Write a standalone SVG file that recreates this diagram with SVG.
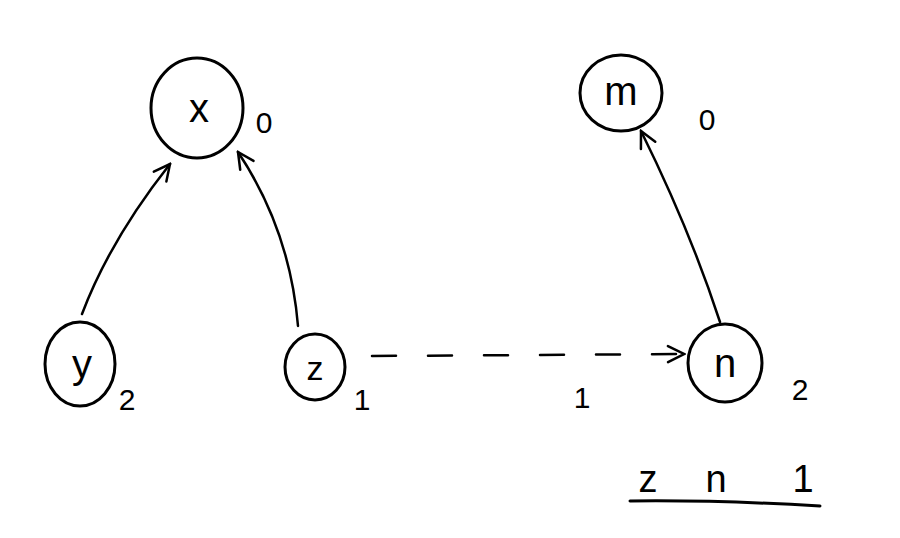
<svg xmlns="http://www.w3.org/2000/svg" width="900" height="538" viewBox="0 0 900 538">
<style>
.c{fill:none;stroke:#000;stroke-width:3;stroke-linecap:round}
.t{font-family:"Liberation Sans",Arial,sans-serif;fill:#000;text-anchor:middle}
.lbl{font-size:40px}
.w{font-size:30px}
.e{fill:none;stroke:#000;stroke-width:2.5;stroke-linecap:round}
</style>
<defs>
<marker id="ah" viewBox="0 0 20 20" refX="18" refY="10" markerWidth="20" markerHeight="20" markerUnits="userSpaceOnUse" orient="auto">
<path d="M2,2 L18,10 L2,18" fill="none" stroke="#000" stroke-width="2.5" stroke-linecap="round"/>
</marker>
</defs>
<rect width="900" height="538" fill="#fff"/>
<g id="node-x">
<ellipse class="c" cx="197" cy="108" rx="46" ry="50"/>
<text class="t lbl" x="199" y="122">x</text>
<text class="t w" x="264" y="133">0</text>
</g>
<g id="node-y">
<ellipse class="c" cx="80" cy="364" rx="35" ry="42"/>
<text class="t lbl" x="82" y="378">y</text>
<text class="t w" x="127" y="410">2</text>
</g>
<g id="node-z">
<ellipse class="c" cx="315" cy="367" rx="30" ry="33"/>
<text class="t" style="font-size:34px" x="315" y="380">z</text>
<text class="t w" x="362" y="410">1</text>
</g>
<g id="node-m">
<ellipse class="c" cx="621" cy="93" rx="41" ry="38"/>
<text class="t lbl" x="621" y="105">m</text>
<text class="t w" x="707" y="130">0</text>
</g>
<g id="node-n">
<ellipse class="c" cx="725" cy="363" rx="37" ry="39"/>
<text class="t lbl" x="725" y="377">n</text>
<text class="t w" x="800" y="400">2</text>
</g>
<g id="connectors">
<path class="e" d="M82,314 Q110,240 170,164" marker-end="url(#ah)"/>
<path class="e" d="M298,326 Q290,230 238,152" marker-end="url(#ah)"/>
<path class="e" d="M720,322 Q690,230 641,131" marker-end="url(#ah)"/>
<path class="e" d="M372,356 L684,354" stroke-dasharray="24,32" marker-end="url(#ah)"/>
</g>
<g id="labels">
<text class="t w" x="582" y="408">1</text>
<text class="t" style="font-size:38px" x="648" y="492">z</text>
<text class="t" style="font-size:38px" x="716" y="492">n</text>
<text class="t" style="font-size:38px" x="803" y="492">1</text>
<path class="c" d="M630,501 Q720,500 820,506"/>
</g>
</svg>
